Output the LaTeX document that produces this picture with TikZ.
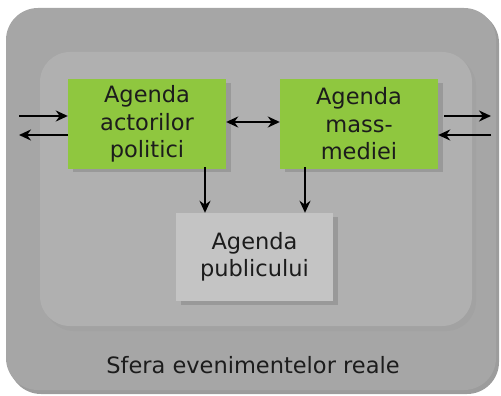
\documentclass[tikz,border=0pt]{standalone}
\usepackage{fontspec}
\setmainfont{DejaVu Sans}
\usetikzlibrary{arrows.meta}
\definecolor{outerc}{HTML}{A6A6A6}
\definecolor{outersh}{HTML}{9C9C9C}
\definecolor{innerc}{HTML}{B0B0B0}
\definecolor{innersh}{HTML}{A2A2A2}
\definecolor{greenc}{HTML}{8FC73F}
\definecolor{boxsh}{HTML}{999999}
\definecolor{pubc}{HTML}{C4C4C4}
\definecolor{txtc}{HTML}{1C1C1C}
\tikzset{
  agbox/.style={fill=greenc, minimum width=158pt, minimum height=89pt, inner sep=0pt, align=center, text=txtc, font=\fontsize{22.5}{27.5}\selectfont},
  pubbox/.style={agbox, fill=pubc},
  arr/.style={line width=2pt, -{Stealth[length=12pt,width=11pt]}},
  darr/.style={line width=2pt, {Stealth[length=12pt,width=11pt]}-{Stealth[length=12pt,width=11pt]}}
}
\begin{document}
\begin{tikzpicture}[x=1pt,y=-1pt]
\useasboundingbox (0,0) rectangle (501,396);
% outer sphere
\fill[outersh, rounded corners=32pt] (9,11) rectangle (499,394);
\fill[outerc, rounded corners=32pt] (6,8) rectangle (496,390);
% inner area
\fill[innersh, rounded corners=30pt] (44,56) rectangle (476,331);
\fill[innerc, rounded corners=30pt] (40,52) rectangle (472,326);
% shadows of boxes
\fill[boxsh] (73,83) rectangle (231,172);
\fill[boxsh] (285,83) rectangle (443,172);
\fill[boxsh] (181,217) rectangle (338,305);
% boxes
\node[agbox] (a) at (147,124) {Agenda\\actorilor\\politici};
\node[agbox] (m) at (359,124) {Agenda\\mass-\\mediei};
\node[pubbox, minimum width=157pt, minimum height=88pt] (p) at (254.5,257) {Agenda\\publicului};
\node[font=\fontsize{22.5}{27}\selectfont, text=txtc] (s) at (253,365) {Sfera evenimentelor reale};
% free ends
\coordinate (l1) at (19,116);
\coordinate (l2) at (19,135);
\coordinate (r1) at (491,116);
\coordinate (r1s) at (444,116);
\coordinate (r2) at (491,135);
\coordinate (d1) at (205,167);
\coordinate (d2) at (305,167);
% arrows
\draw[arr] (l1) -- (l1 -| a.west);
\draw[arr] (l2 -| a.west) -- (l2);
\draw[arr] (r1s) -- (r1);
\draw[arr] (r2) -- (r2 -| m.east);
\draw[darr] (a.east |- 0,122) -- (m.west |- 0,122);
\draw[arr] (d1) -- (d1 |- p.north);
\draw[arr] (d2) -- (d2 |- p.north);
\end{tikzpicture}
\end{document}
